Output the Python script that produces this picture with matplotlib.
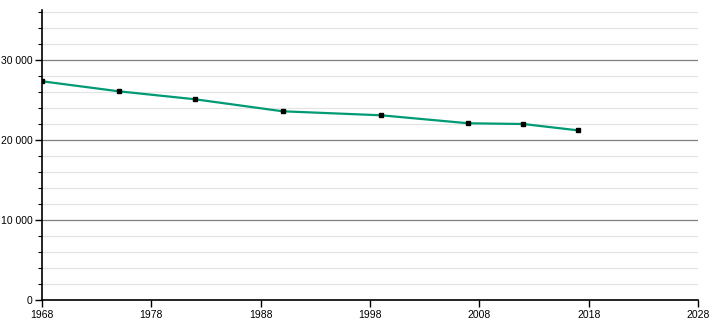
import matplotlib.pyplot as plt
from matplotlib.ticker import MultipleLocator, FuncFormatter

plt.rcParams['font.family'] = ['Liberation Sans', 'DejaVu Sans']

# population by census year
years = [1968, 1975, 1982, 1990, 1999, 2007, 2012, 2017]
population = [27340, 26090, 25090, 23590, 23090, 22090, 22000, 21210]
xticks = [1968, 1978, 1988, 1998, 2008, 2018, 2028]

fig = plt.figure(figsize=(7.1, 3.2), dpi=100)
ax = fig.add_axes([42 / 710, 20 / 320, 656 / 710, 290 / 320])

ax.plot(years, population, color='#009a74', linewidth=1.6, zorder=3)
ax.plot(years, population, linestyle='none', marker='s', markersize=3.2,
        color='black', zorder=4)

ax.set_xlim(1968, 2028)
ax.set_ylim(0, 36250)
ax.set_xticks(xticks)
ax.yaxis.set_major_locator(MultipleLocator(10000))
ax.yaxis.set_minor_locator(MultipleLocator(2000))
ax.yaxis.set_major_formatter(FuncFormatter(lambda v, p: f'{int(v):,}'.replace(',', ' ')))

ax.grid(axis='y', which='minor', color='#e4e4e4', linewidth=0.9)
ax.grid(axis='y', which='major', color='#808080', linewidth=0.9)
ax.set_axisbelow(True)

for s in ['top', 'right']:
    ax.spines[s].set_visible(False)
ax.spines['left'].set_linewidth(1.2)
ax.spines['bottom'].set_linewidth(1.2)

ax.tick_params(axis='both', which='major', labelsize=7.5, length=5, width=1, pad=2)
ax.tick_params(axis='y', which='minor', length=3, width=0.8)

fig.savefig('out.png', dpi=100)
